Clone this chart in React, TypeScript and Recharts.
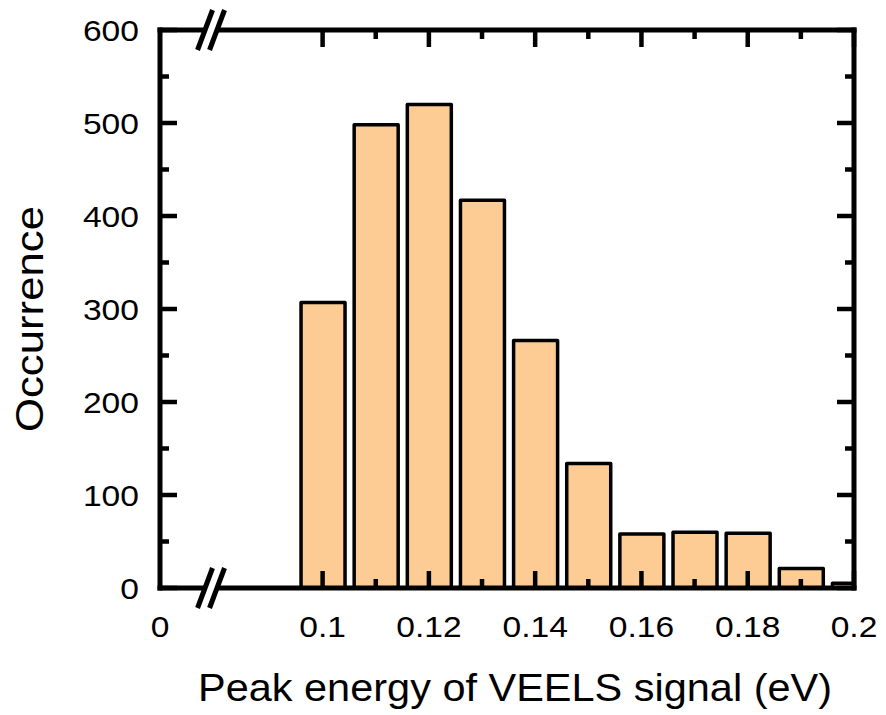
import React from 'react';
import { ComposedChart, Bar, XAxis, YAxis, ReferenceDot, ReferenceLine } from 'recharts';

// histogram bins (eV) and counts
const energies = [0.1, 0.11, 0.12, 0.13, 0.14, 0.15, 0.16, 0.17, 0.18, 0.19, 0.2];
const counts = [307, 498, 520, 417, 266, 134, 58, 60, 59, 21, 5];

// broken x axis: the left end is labelled "0"
const xStart = 0.0694;
const xEnd = 0.2;
const xBreak = 0.079;
const xMajor = [0.1, 0.12, 0.14, 0.16, 0.18, 0.2];
const xMinor = [0.11, 0.13, 0.15, 0.17, 0.19];
const yMajor = [0, 100, 200, 300, 400, 500, 600];
const yMinor = [50, 150, 250, 350, 450, 550];

const xTicks = [xStart, ...xMajor];
const data = energies.map((e, i) => ({ energy: e, count: counts[i] }));

const FONT = '"Liberation Sans", Arial, sans-serif';
const TICK_FS = 30;
const STRETCH = 1.12;
const MAJOR_LEN = 17;
const MINOR_LEN = 9;
const TICK_W = 4.5;

const inList = (v: number, list: number[]) => list.some((m) => Math.abs(m - v) < 1e-6);

function XLabel(props: any) {
  const { x, y, payload } = props;
  const v = payload.value as number;
  const label = Math.abs(v - xStart) < 1e-6 ? '0' : String(v);
  return (
    <text
      transform={`translate(${x},${y + 49}) scale(${STRETCH},1)`}
      textAnchor="middle"
      fontSize={TICK_FS}
      fontFamily={FONT}
      fill="#000"
    >
      {label}
    </text>
  );
}

// inward tick on one side of the frame, optional label for the left side
function TickMark({ cx, cy, side, major, label }: any) {
  const len = major ? MAJOR_LEN : MINOR_LEN;
  let x2 = cx;
  let y2 = cy;
  if (side === 'left') x2 = cx + len;
  if (side === 'right') x2 = cx - len;
  if (side === 'top') y2 = cy + len;
  if (side === 'bottom') y2 = cy - len;
  return (
    <g>
      <line x1={cx} y1={cy} x2={x2} y2={y2} stroke="#000" strokeWidth={TICK_W} />
      {label != null && (
        <text
          transform={`translate(${cx - 21},${cy}) scale(${STRETCH},1)`}
          dy="0.36em"
          textAnchor="end"
          fontSize={TICK_FS}
          fontFamily={FONT}
          fill="#000"
        >
          {label}
        </text>
      )}
    </g>
  );
}

// the "//" axis break symbol
function BreakMark({ cx, cy }: any) {
  const s = 0.375;
  const h = 4;
  const gap = [
    [cx - 6 + s * h, cy - h],
    [cx + 6 + s * h, cy - h],
    [cx + 6 - s * h, cy + h],
    [cx - 6 - s * h, cy + h],
  ]
    .map((p) => p.join(','))
    .join(' ');
  return (
    <g>
      <polygon points={gap} fill="#fff" />
      <line x1={cx - 13.5} y1={cy + 20} x2={cx + 1.5} y2={cy - 20} stroke="#000" strokeWidth={5} />
      <line x1={cx - 1.5} y1={cy + 20} x2={cx + 13.5} y2={cy - 20} stroke="#000" strokeWidth={5} />
    </g>
  );
}

const frame = { stroke: '#000', strokeWidth: 5, strokeLinecap: 'square' as const };
const ids = { xAxisId: 'b', yAxisId: 'l' };

export default function App() {
  return (
    <div style={{ position: 'absolute', left: 0, top: 0, background: '#fff' }}>
      <ComposedChart width={886} height={715} data={data} margin={{ top: 30, right: 32, bottom: 0, left: 0 }}>
        <XAxis
          xAxisId="b"
          dataKey="energy"
          type="number"
          domain={[xStart, xEnd]}
          allowDataOverflow
          ticks={xTicks}
          interval={0}
          height={127}
          tickSize={0}
          tickMargin={0}
          tickLine={false}
          axisLine={frame}
          tick={(p: any) => <XLabel {...p} />}
          label={{
            content: (p: any) => {
              const vb = p.viewBox;
              return (
                <text
                  x={vb.x + vb.width / 2 + 8}
                  y={vb.y + 113}
                  textAnchor="middle"
                  fontSize={39}
                  textLength={634}
                  lengthAdjust="spacingAndGlyphs"
                  fontFamily={FONT}
                  fill="#000"
                >
                  Peak energy of VEELS signal (eV)
                </text>
              );
            },
          }}
        />
        <YAxis
          yAxisId="l"
          type="number"
          domain={[0, 600]}
          ticks={yMajor}
          width={160}
          tick={false}
          tickLine={false}
          axisLine={frame}
          label={{
            content: (p: any) => {
              const vb = p.viewBox;
              const cy = vb.y + vb.height / 2 + 10;
              return (
                <text
                  x={43}
                  y={cy}
                  transform={`rotate(-90, 43, ${cy})`}
                  textAnchor="middle"
                  fontSize={39}
                  textLength={226}
                  lengthAdjust="spacingAndGlyphs"
                  fontFamily={FONT}
                  fill="#000"
                >
                  Occurrence
                </text>
              );
            },
          }}
        />
        <Bar
          {...ids}
          dataKey="count"
          barSize={44}
          fill="#FCCC94"
          stroke="#000"
          strokeWidth={3.5}
          strokeLinejoin="round"
          isAnimationActive={false}
        />
        <ReferenceLine {...ids} y={600} ifOverflow="visible" {...frame} />
        <ReferenceLine {...ids} x={xEnd} ifOverflow="visible" {...frame} />
        {[...yMajor, ...yMinor].map((v) => (
          <ReferenceDot
            key={`yl${v}`}
            {...ids}
            x={xStart}
            y={v}
            r={0}
            ifOverflow="visible"
            shape={(p: any) => (
              <TickMark {...p} side="left" major={inList(v, yMajor)} label={inList(v, yMajor) ? v : null} />
            )}
          />
        ))}
        {[...yMajor, ...yMinor].map((v) => (
          <ReferenceDot
            key={`yr${v}`}
            {...ids}
            x={xEnd}
            y={v}
            r={0}
            ifOverflow="visible"
            shape={(p: any) => <TickMark {...p} side="right" major={inList(v, yMajor)} />}
          />
        ))}
        {[...xMajor, ...xMinor].map((v) => (
          <ReferenceDot
            key={`xb${v}`}
            {...ids}
            x={v}
            y={0}
            r={0}
            ifOverflow="visible"
            shape={(p: any) => <TickMark {...p} side="bottom" major={inList(v, xMajor)} />}
          />
        ))}
        {[...xMajor, ...xMinor].map((v) => (
          <ReferenceDot
            key={`xt${v}`}
            {...ids}
            x={v}
            y={600}
            r={0}
            ifOverflow="visible"
            shape={(p: any) => <TickMark {...p} side="top" major={inList(v, xMajor)} />}
          />
        ))}
        <ReferenceDot {...ids} x={xBreak} y={0} r={0} ifOverflow="visible" shape={(p: any) => <BreakMark {...p} />} />
        <ReferenceDot {...ids} x={xBreak} y={600} r={0} ifOverflow="visible" shape={(p: any) => <BreakMark {...p} />} />
      </ComposedChart>
    </div>
  );
}
